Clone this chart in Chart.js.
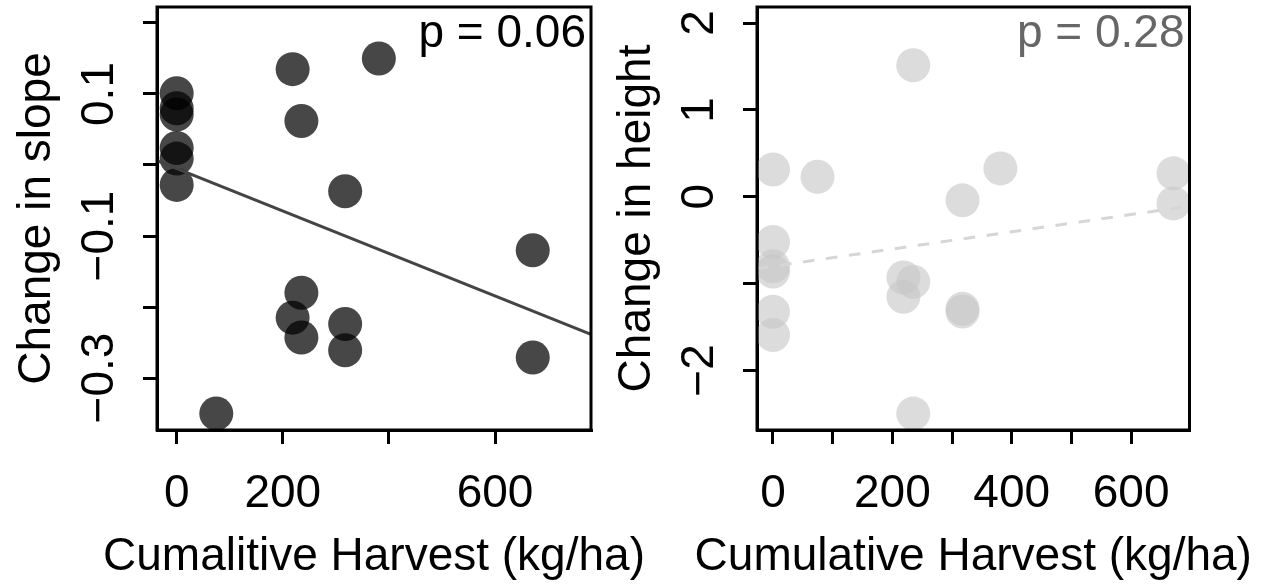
<!DOCTYPE html>
<html>
<head>
<meta charset="utf-8">
<script src="https://cdn.jsdelivr.net/npm/chart.js@4.4.1/dist/chart.umd.min.js"></script>
<style>
  html, body { margin: 0; padding: 0; background: #fff; }
  #wrap { position: relative; width: 1266px; height: 588px; overflow: hidden; background: #fff; }
  canvas { position: absolute; top: 0; }
  #slopeChart { left: 0; }
  #heightChart { left: 600px; }
</style>
</head>
<body>
<div id="wrap">
  <canvas id="slopeChart" width="660" height="588"></canvas>
  <canvas id="heightChart" width="666" height="588"></canvas>
</div>
<script>
// Cumulative harvest per plot (kg/ha), shared by both panels
const harvest = [0, 0, 0, 0, 0, 0, 74.6, 218.5, 218.5, 235, 235, 235, 317.5, 317.5, 317.5, 381, 671, 671];
// Change in slope per plot
const slopeChange = [0.101, 0.080, 0.071, 0.024, 0.009, -0.028, -0.350, 0.135, -0.215, 0.062, -0.180, -0.243, -0.037, -0.224, -0.261, 0.150, -0.120, -0.271];
// Change in height per plot
const heightChange = [0.315, -0.520, -0.800, -0.860, -1.323, -1.592, 0.230, -0.929, -1.152, 1.514, -0.979, -2.496, -0.041, -1.290, -1.320, 0.327, 0.270, -0.076];

// Fitted regression lines: [intercept, slope]
const slopeFit = [-0.0049, -0.000299];
const heightFit = [-0.800, 0.000993];
const slopeP = 'p = 0.06';
const heightP = 'p = 0.28';

// Axis ticks and their printed labels (blank = tick without label)
const slopeXTicks = [0, 200, 400, 600];
const slopeXLabels = ['0', '200', '', '600'];
const slopeYTicks = [-0.3, -0.2, -0.1, 0, 0.1, 0.2];
const slopeYLabels = ['\u22120.3', '', '\u22120.1', '', '0.1', ''];
const heightXTicks = [0, 100, 200, 300, 400, 500, 600];
const heightXLabels = ['0', '', '200', '', '400', '', '600'];
const heightYTicks = [-2, -1, 0, 1, 2];
const heightYLabels = ['\u22122', '', '0', '1', '2'];

// Axis limits
const slopeXRange = [-37.1, 780.8];
const slopeYRange = [-0.3732, 0.2225];
const heightXRange = [-26.8, 697.8];
const heightYRange = [-2.685, 2.185];

const FONT = '46px "Liberation Sans", Arial, sans-serif';

function put(ctx, str, x, y, rot, align, color) {
  if (!str) return;
  ctx.save();
  ctx.translate(x, y);
  ctx.rotate(rot);
  ctx.font = FONT;
  ctx.fillStyle = color || '#000';
  ctx.textAlign = align;
  ctx.textBaseline = 'alphabetic';
  ctx.fillText(str, 0, 0);
  ctx.restore();
}

// Box, tick labels, axis titles and p-value, drawn in base-graphics style
const baseAxes = {
  id: 'baseAxes',
  afterDraw(chart, args, o) {
    const ctx = chart.ctx, a = chart.chartArea;
    const xs = chart.scales.x, ys = chart.scales.y;
    ctx.save();
    ctx.strokeStyle = '#000';
    ctx.lineWidth = 3;
    ctx.strokeRect(a.left, a.top, a.right - a.left, a.bottom - a.top);
    ctx.restore();
    xs.ticks.forEach(t => {
      const i = o.xTicks.indexOf(t.value);
      put(ctx, o.xLabels[i], xs.getPixelForValue(t.value), a.bottom + 77, 0, 'center');
    });
    ys.ticks.forEach(t => {
      const i = o.yTicks.indexOf(t.value);
      put(ctx, o.yLabels[i], a.left - 44, ys.getPixelForValue(t.value), -Math.PI / 2, 'center');
    });
    put(ctx, o.xTitle, (a.left + a.right) / 2, a.bottom + 140, 0, 'center');
    put(ctx, o.yTitle, a.left - 107, (a.top + a.bottom) / 2, -Math.PI / 2, 'center');
    put(ctx, o.pText, a.right - 5, a.top + 39.5, 0, 'right', o.pColor);
  }
};

function axis(range, ticks, isX) {
  return {
    type: 'linear',
    min: range[0],
    max: range[1],
    afterBuildTicks: s => { s.ticks = ticks.map(v => ({ value: v })); },
    afterFit: s => { if (isX) s.height = 158; else s.width = 157; },
    ticks: { display: false },
    grid: { drawOnChartArea: false, drawTicks: true, tickLength: 14, tickWidth: 3, tickColor: '#000', lineWidth: 3, color: '#000' },
    border: { display: true, width: 3, color: '#000' }
  };
}

function panel(id, yValues, fit, xRange, yRange, xTicks, xLabels, yTicks, yLabels, style) {
  const pts = harvest.map((x, i) => ({ x: x, y: yValues[i] }));
  const fitLine = [xRange[0], xRange[1]].map(x => ({ x: x, y: fit[0] + fit[1] * x }));
  return new Chart(document.getElementById(id), {
    type: 'scatter',
    data: {
      datasets: [
        {
          type: 'line',
          data: fitLine,
          borderColor: style.lineColor,
          borderWidth: 3,
          borderDash: style.dash,
          pointRadius: 0,
          fill: false,
          order: 0
        },
        {
          data: pts,
          backgroundColor: style.pointColor,
          borderWidth: 0,
          pointRadius: 17,
          pointHoverRadius: 17,
          order: 1
        }
      ]
    },
    options: {
      responsive: false,
      devicePixelRatio: 1,
      animation: false,
      events: [],
      layout: { autoPadding: false, padding: { top: 7, left: 0, bottom: 0, right: style.padRight } },
      scales: {
        x: axis(xRange, xTicks, true),
        y: axis(yRange, yTicks, false)
      },
      plugins: {
        legend: { display: false },
        tooltip: { enabled: false },
        baseAxes: {
          xTicks: xTicks, xLabels: xLabels, yTicks: yTicks, yLabels: yLabels,
          xTitle: style.xTitle, yTitle: style.yTitle, pText: style.pText, pColor: style.pColor
        }
      }
    },
    plugins: [baseAxes]
  });
}

panel('slopeChart', slopeChange, slopeFit, slopeXRange, slopeYRange,
  slopeXTicks, slopeXLabels, slopeYTicks, slopeYLabels, {
    lineColor: '#444444', dash: [], pointColor: 'rgba(0,0,0,0.72)', padRight: 69,
    xTitle: 'Cumalitive Harvest (kg/ha)', yTitle: 'Change in slope', pText: slopeP, pColor: '#000'
  });

panel('heightChart', heightChange, heightFit, heightXRange, heightYRange,
  heightXTicks, heightXLabels, heightYTicks, heightYLabels, {
    lineColor: '#d6d6d6', dash: [11.6, 11.6], pointColor: 'rgba(199,199,199,0.63)', padRight: 76.5,
    xTitle: 'Cumulative Harvest (kg/ha)', yTitle: 'Change in height', pText: heightP, pColor: '#666666'
  });
</script>
</body>
</html>
